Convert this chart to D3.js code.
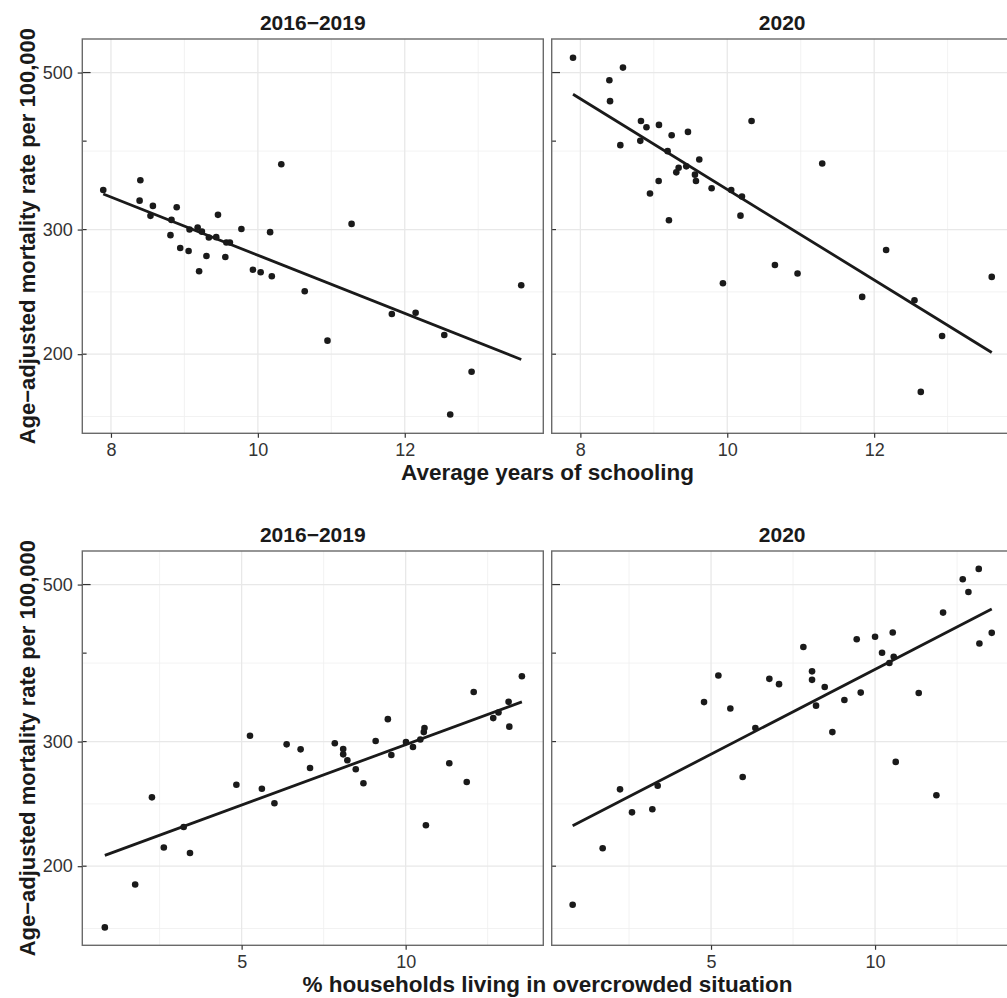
<!DOCTYPE html>
<html>
<head>
<meta charset="utf-8">
<script src="https://cdn.jsdelivr.net/npm/d3@7"></script>
<style>
body{margin:0;background:#fff}
text{font-family:"Liberation Sans",Arial,Helvetica,sans-serif}
</style>
</head>
<body>
<script>
// schooling (top row)
var schoolX1619=[7.895,8.40,8.39,8.571,8.538,8.895,8.824,8.81,8.943,9.057,9.07,9.18,9.238,9.2,9.3,9.333,9.433,9.457,9.557,9.571,9.619,9.776,9.933,10.038,10.167,10.19,10.319,10.638,10.948,11.276,11.824,12.148,12.538,12.619,12.91,13.586]
var schoolY1619=[341.2,352.2,329.6,324.0,313.7,322.6,309.6,294.6,282.5,279.8,300,302.0,298,261.9,275.3,292.4,292.7,314.7,274.4,287.7,287.7,300.6,263.3,261.1,297.5,257.7,371.1,245.5,209.0,305.6,227.9,228.9,212.9,164.4,188.9,250.3]
var schoolX2020=[7.90,8.395,8.58,8.404,8.544,8.825,8.816,8.90,9.07,9.243,9.465,9.188,9.619,9.338,9.306,9.442,9.56,9.574,9.066,8.948,9.206,9.787,10.054,10.2,10.18,10.331,9.941,10.649,10.957,11.293,11.837,12.163,12.549,12.925,12.635,13.601]
var schoolY2020=[524.8,487.7,508.1,455.6,394.8,427.2,400.4,418.5,421.7,407.8,412.2,387.2,376.9,366.9,361.4,368.5,358.7,351.4,351.4,337.3,309.3,343.2,341.2,334.1,313.9,427.2,251.9,267.3,260.0,371.9,241.0,280.7,238.4,212.2,176.9,257.2]
// overcrowding (bottom row)
var crowdX1619=[0.83,1.755,2.266,2.628,3.234,3.426,4.84,5.255,5.617,6.0,6.372,6.798,7.085,7.84,8.096,8.096,8.223,8.479,8.713,9.085,9.457,9.564,10.01,10.223,10.447,10.553,10.574,10.617,11.33,11.862,12.074,12.67,12.83,13.138,13.16,13.543]
var crowdY1619=[163.9,188.4,250.2,212.5,227.2,208.8,260.7,305.7,257.3,245.4,297.3,292.5,275.3,298.3,292.9,287.8,282.3,274.1,261.9,300.5,322.7,287.2,299.5,294.7,302.1,309.4,313.5,228.5,279.5,263.0,352.5,323.8,329.8,341.4,314.9,371.1]
var crowdX2020=[0.782,1.697,2.226,2.591,3.211,3.374,4.787,5.224,5.589,5.965,6.352,6.778,7.073,7.815,8.079,8.079,8.201,8.465,8.699,9.065,9.441,9.563,10.0,10.213,10.437,10.539,10.569,10.63,11.331,11.87,12.073,12.673,12.846,13.161,13.181,13.557]
var crowdY2020=[176.4,212.0,256.8,238.3,240.7,259.8,341.1,371.9,334.1,267.3,313.5,367.9,361.6,408.0,377.0,366.7,337.2,358.3,309.4,343.5,418.6,351.8,421.9,400.6,387.3,427.8,395.3,280.8,351.4,251.9,456.4,508.7,488.1,526.1,412.8,427.3]

var panelTitles=["2016\u22122019","2020"]
var rowTitles=["Average years of schooling","% households living in overcrowded situation"]
var yTitle="Age\u2212adjusted mortality rate per 100,000"
var xTicksTop=[8,10,12]
var xMinorTop=[9,11,13]
var xTicksBottom=[5,10]
var xMinorBottom=[2.5,7.5,12.5]
var yBreaks=[200,300,500]
var yTicks=[200,300,400,500]

var screen={width:1007,height:998}
var panel={width:461,height:394.3}
var lefts=[82.3,551.7]
var tops=[39,551]

var expandLin=function(ext){var p=(ext[1]-ext[0])*0.05;return [ext[0]-p,ext[1]+p]}
var expandLog=function(ext){var a=Math.log(ext[0]),b=Math.log(ext[1]),p=(b-a)*0.05;return [Math.exp(a-p),Math.exp(b+p)]}
// least squares on log(y)
var fitLog=function(xs,ys){
  var mx=d3.mean(xs),my=d3.mean(ys,function(v){return Math.log(v)})
  var sxy=0,sxx=0
  xs.forEach(function(x,i){sxy+=(x-mx)*(Math.log(ys[i])-my);sxx+=(x-mx)*(x-mx)})
  var b=sxy/sxx,a=my-b*mx
  var ext=d3.extent(xs)
  return ext.map(function(x){return {x:x,y:Math.exp(a+b*x)}})
}

var rows=[
  {xs:[schoolX1619,schoolX2020],ys:[schoolY1619,schoolY2020],ticks:xTicksTop,minor:xMinorTop,title:rowTitles[0]},
  {xs:[crowdX1619,crowdX2020],ys:[crowdY1619,crowdY2020],ticks:xTicksBottom,minor:xMinorBottom,title:rowTitles[1]}
]

var allY=schoolY1619.concat(schoolY2020,crowdY1619,crowdY2020)
var yScale=d3.scaleLog()
  .domain(expandLog(d3.extent(allY)))
  .range([panel.height,0])
// minor breaks half way (log space) between major breaks
var yMinor=[]
for(var i=0;i<yBreaks.length-1;i++){yMinor.push(Math.sqrt(yBreaks[i]*yBreaks[i+1]))}
yMinor.push(yBreaks[0]*Math.sqrt(yBreaks[0]/yBreaks[1]))
yMinor=yMinor.filter(function(v){return v>yScale.domain()[0]&&v<yScale.domain()[1]})

var svg=d3.select("body").append("svg")
  .attr("width",screen.width)
  .attr("height",screen.height)
  .style("background","#fff")

rows.forEach(function(row,r){
  var xScale=d3.scaleLinear()
    .domain(expandLin(d3.extent(row.xs[0].concat(row.xs[1]))))
    .range([0,panel.width])
  for(var p=0;p<2;p++){
    var g=svg.append("g")
      .attr("transform","translate("+lefts[p]+","+tops[r]+")")
    //grid
    g.selectAll(".xminor").data(row.minor).enter().append("line")
      .attr("x1",function(d){return xScale(d)}).attr("x2",function(d){return xScale(d)})
      .attr("y1",0).attr("y2",panel.height)
      .style("stroke","#efefef").style("stroke-width",0.8)
    g.selectAll(".yminor").data(yMinor).enter().append("line")
      .attr("y1",function(d){return yScale(d)}).attr("y2",function(d){return yScale(d)})
      .attr("x1",0).attr("x2",panel.width)
      .style("stroke","#efefef").style("stroke-width",0.8)
    g.selectAll(".xmajor").data(row.ticks).enter().append("line")
      .attr("x1",function(d){return xScale(d)}).attr("x2",function(d){return xScale(d)})
      .attr("y1",0).attr("y2",panel.height)
      .style("stroke","#e8e8e8").style("stroke-width",1.3)
    g.selectAll(".ymajor").data(yBreaks).enter().append("line")
      .attr("y1",function(d){return yScale(d)}).attr("y2",function(d){return yScale(d)})
      .attr("x1",0).attr("x2",panel.width)
      .style("stroke","#e8e8e8").style("stroke-width",1.3)
    //points
    var xs=row.xs[p],ys=row.ys[p]
    g.selectAll("circle").data(xs).enter().append("circle")
      .attr("cx",function(d){return xScale(d)})
      .attr("cy",function(d,i){return yScale(ys[i])})
      .attr("r",3.3)
      .style("fill","#1a1a1a")
    //fit line
    var line=d3.line().x(function(d){return xScale(d.x)}).y(function(d){return yScale(d.y)})
    g.append("path")
      .attr("d",line(fitLog(xs,ys)))
      .style("fill","none").style("stroke","#1a1a1a").style("stroke-width",2.8)
    //inner ticks
    g.selectAll(".itick").data(yTicks).enter().append("line")
      .attr("x1",0).attr("x2",function(d){return d==500?8.3:4.3})
      .attr("y1",function(d){return yScale(d)}).attr("y2",function(d){return yScale(d)})
      .style("stroke","#333").style("stroke-width",1.2)
    //border
    g.append("rect")
      .attr("width",panel.width).attr("height",panel.height)
      .style("fill","none").style("stroke","#6a6a6a").style("stroke-width",1.4)
    //x axis
    var xAxis=d3.axisBottom(xScale).tickValues(row.ticks).tickSize(4.5).tickPadding(5.3).tickFormat(d3.format("~g"))
    var xa=g.append("g").attr("transform","translate(0,"+panel.height+")").call(xAxis)
    xa.select(".domain").remove()
    xa.selectAll("line").style("stroke","#333").style("stroke-width",1.2)
    xa.selectAll("text").style("font-size","18px").style("fill","#333").style("font-family","Liberation Sans, Arial, sans-serif")
    //y axis only on the first panel
    if(p==0){
      var yAxis=d3.axisLeft(yScale).tickValues(yBreaks).tickSize(4.6).tickPadding(5).tickFormat(d3.format("d"))
      var ya=g.append("g").call(yAxis)
      ya.select(".domain").remove()
      ya.selectAll("line").style("stroke","#333").style("stroke-width",1.2)
      ya.selectAll("text").style("font-size","18px").style("fill","#333").style("font-family","Liberation Sans, Arial, sans-serif")
    }
    //strip title
    svg.append("text")
      .attr("x",lefts[p]+panel.width/2)
      .attr("y",tops[r]-9)
      .attr("text-anchor","middle")
      .style("font-size","21px").style("font-weight","bold").style("fill","#1a1a1a")
      .text(panelTitles[p])
  }
  //axis titles
  svg.append("text")
    .attr("x",(lefts[0]+lefts[1]+panel.width)/2)
    .attr("y",tops[r]+441)
    .attr("text-anchor","middle")
    .style("font-size","22.5px").style("font-weight","bold").style("fill","#1a1a1a")
    .text(row.title)
  svg.append("text")
    .attr("transform","translate(35,"+(tops[r]+panel.height/2)+") rotate(-90)")
    .attr("text-anchor","middle")
    .style("font-size","22px").style("font-weight","bold").style("fill","#1a1a1a")
    .text(yTitle)
})
</script>
</body>
</html>
